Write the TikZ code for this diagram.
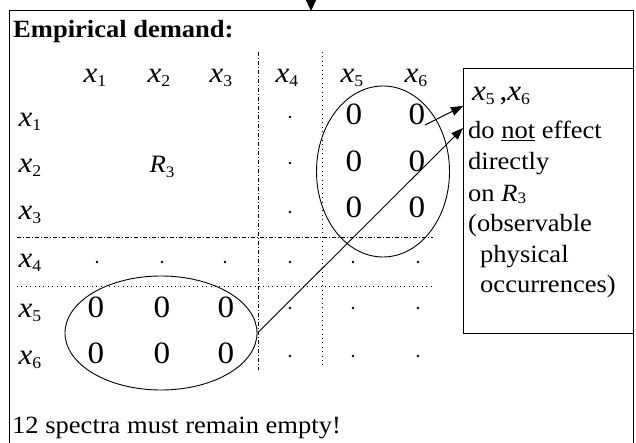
\documentclass[tikz,border=0pt]{standalone}
\usepackage{fontspec}
\setmainfont{Liberation Serif}[FakeStretch=1.07]
\usetikzlibrary{arrows.meta, shapes.geometric}

\newcommand{\vx}[1]{\textit{x}\raisebox{-4pt}{\fontsize{16.5}{17}\selectfont #1}}
\newcommand{\vr}[2]{\textit{R}\raisebox{-#2}{\fontsize{16}{16}\selectfont #1}}

\tikzset{
  txt/.style={font=\fontsize{24.8}{28}\selectfont, inner sep=0pt},
  var/.style={font=\fontsize{29}{31}\selectfont, inner sep=0pt, anchor=base},
  zero/.style={font=\fontsize{31}{33}\selectfont, inner sep=0pt, anchor=base},
  ring/.style={draw, ellipse, line width=0.9pt, inner sep=0pt},
  pointer/.style={-{Triangle[width=9pt,length=12pt]}, line width=0.9pt},
  dashdot/.style={line width=0.8pt, dash pattern=on 4pt off 2pt on 1pt off 2pt},
  dotline/.style={line width=0.9pt, dash pattern=on 0.9pt off 3.5pt}
}

\begin{document}
\begin{tikzpicture}[x=1pt, y=-1pt]
  \useasboundingbox (0,0) rectangle (636,443);
  \draw[line width=1pt] (9,443) |- (633,11) -- (633,443);
  \coordinate (feed) at (311,0);
  \coordinate (entry) at (311,11);
  \draw[-{Triangle[width=10pt,length=11pt]}, line width=1pt] (feed) -- (entry);

  \node[txt, anchor=base west, font=\fontsize{24.8}{28}\selectfont\bfseries] (title) at (13,38) {Empirical demand:};

  \draw[dashdot] (258,52) -- (258,370);
  \draw[dotline] (322,52) -- (322,368);
  \draw[dashdot] (17,237) -- (433,237);
  \draw[dotline] (17,286) -- (433,286);

  \foreach \c/\x in {1/95,2/159,3/221,4/287,5/352,6/416}
    \node[var] (h\c) at (\x,83) {\vx{\c}};
  \foreach \r/\y in {1/127,2/173,3/220,4/267,5/317,6/364}
    \node[var] (v\r) at (30,\y) {\vx{\r}};

  \node[var, font=\fontsize{25}{28}\selectfont] (rel) at (162,173) {\vr{3}{5pt}};

  \foreach \y in {117,163,212,308,356}
    \fill (290,\y) circle (1.3pt);
  \foreach \x in {97,162,225,290,353,418}
    \fill (\x,262) circle (1.3pt);
  \foreach \y in {308,356} {
    \fill (353,\y) circle (1.3pt);
    \fill (418,\y) circle (1.3pt);
  }

  \foreach \r/\y in {1/125,2/172,3/218} {
    \node[zero] (z\r5) at (354,\y) {0};
    \node[zero] (z\r6) at (417,\y) {0};
  }
  \foreach \r/\y in {5/317,6/363} {
    \node[zero] (z\r1) at (96,\y) {0};
    \node[zero] (z\r2) at (162,\y) {0};
    \node[zero] (z\r3) at (226,\y) {0};
  }

  \node[ring, minimum width=133pt, minimum height=171pt] (colring) at (383,171.5) {};
  \node[ring, minimum width=192pt, minimum height=114pt] (rowring) at (161,333) {};

  \node[draw, line width=1pt, anchor=north west, minimum width=170pt, minimum height=265pt, inner sep=0pt] (note) at (463,68) {};
  \node[var, anchor=base west] (n1) at (472,101) {\vx{5}\,,\vx{6}};
  \node[txt, anchor=base west] (n2) at (468,139) {do \underline{not} effect};
  \node[txt, anchor=base west] (n3) at (468,170) {directly};
  \node[txt, anchor=base west] (n4) at (468,202) {on \vr{3}{2pt}};
  \node[txt, anchor=base west] (n5) at (468,232) {(observable};
  \node[txt, anchor=base west] (n6) at (480,262) {physical};
  \node[txt, anchor=base west] (n7) at (480,292) {occurrences)};

  \coordinate (tail) at (425,125);
  \coordinate (aimA) at (463,106);
  \coordinate (aimB) at (463,128);
  \draw[pointer] (tail) -- (aimA);
  \draw[pointer] (rowring.east) -- (aimB);

  \node[txt, anchor=base west] (verdict) at (12,433) {12 spectra must remain empty!};
\end{tikzpicture}
\end{document}
